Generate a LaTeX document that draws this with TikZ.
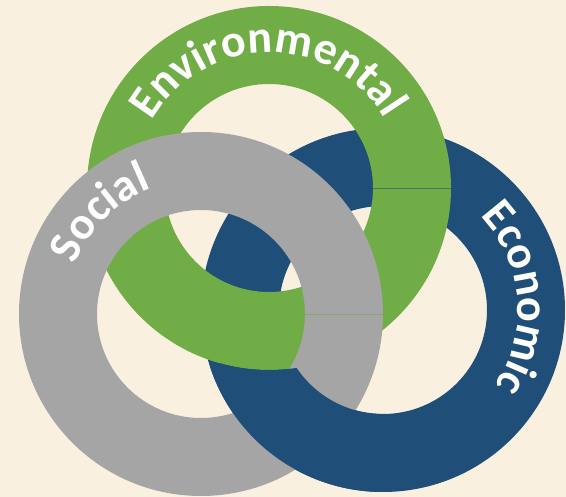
\documentclass[tikz,border=0pt]{standalone}
\usepackage{fontspec}
\newfontfamily\ringfont{Carlito}
\usetikzlibrary{decorations.text}
\definecolor{bgC}{HTML}{FAF0E0}
\definecolor{envC}{HTML}{70AD47}
\definecolor{socC}{HTML}{A5A5A5}
\definecolor{ecoC}{HTML}{1F4E79}
\tikzset{
  ringlabel/.style={decorate, decoration={text along path, text color=white,
      text align=center, text={|\ringfont\bfseries\fontsize{46}{52}\selectfont|#1}}},
  seamline/.style={line width=0.6pt, opacity=0.55}
}
\begin{document}
\begin{tikzpicture}[x=1pt,y=1pt]
\useasboundingbox (0,0) rectangle (566,497);
\fill[bgC] (0,0) rectangle (566,497);
\coordinate (G) at (269,309);
\coordinate (S) at (201,183);
\coordinate (E) at (383,187);
% Economic ring (bottom layer)
\fill[ecoC, even odd rule] (E) circle (182) (E) circle (104);
% Environmental ring
\fill[envC, even odd rule] (G) circle (182) (G) circle (104);
\draw[seamline, ecoC] ([shift={(0:104)}]G) -- ([shift={(0:182)}]G);
% Social ring
\fill[socC, even odd rule] (S) circle (182) (S) circle (104);
\draw[seamline, envC] ([shift={(0:104)}]S) -- ([shift={(0:182)}]S);
% Economic piece passing over Social at the bottom
\begin{scope}
  \clip ([shift={(198:182)}]E) arc[start angle=198, end angle=268, radius=182]
     -- ([shift={(268:104)}]E) arc[start angle=268, end angle=198, radius=104] -- cycle;
  \fill[ecoC, even odd rule] (-10,-10) rectangle (600,520) (G) circle (182);
\end{scope}
% labels
\path[ringlabel=Environmental] ([shift={(180.5:135)}]G) arc[start angle=180.5, end angle=0.5, radius=135];
\path[ringlabel=Social] ([shift={(225:135)}]S) arc[start angle=225, end angle=45, radius=135];
\path[ringlabel=Economic] ([shift={(95:135)}]E) arc[start angle=95, end angle=-85, radius=135];
\end{tikzpicture}
\end{document}
